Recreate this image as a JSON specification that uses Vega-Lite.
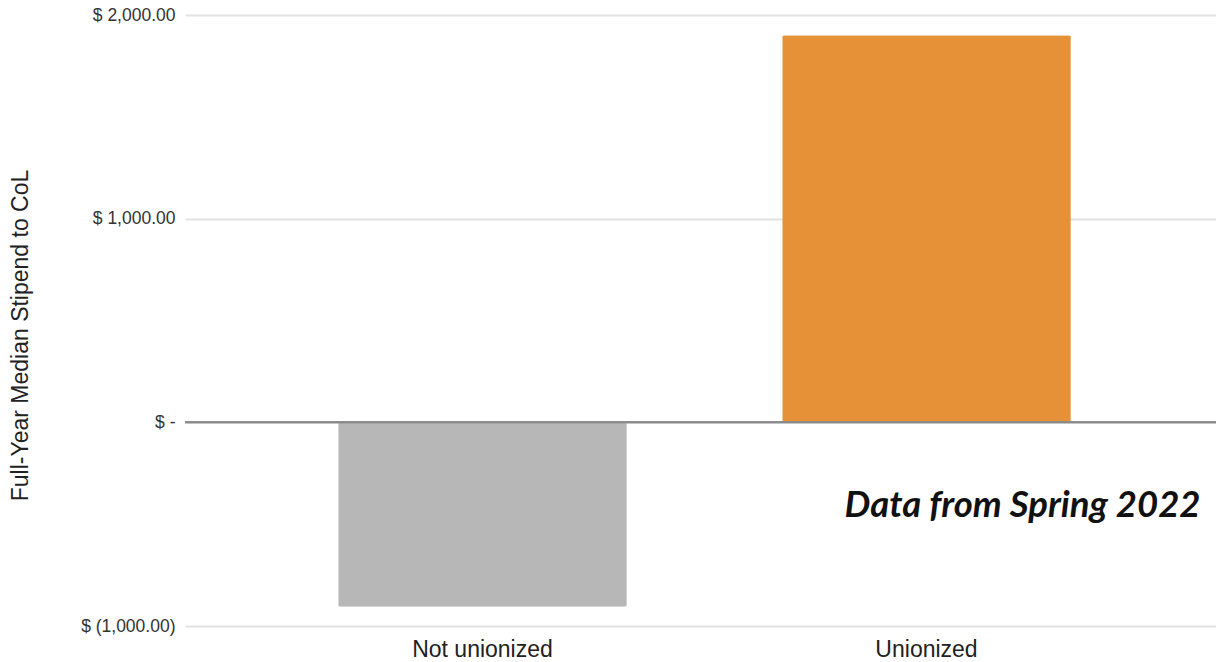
{
  "$schema": "https://vega.github.io/schema/vega-lite/v6.json",
  "autosize": "none",
  "width": 1039,
  "height": 611,
  "padding": {"left": 185, "top": 15, "right": -8, "bottom": 36},
  "background": "white",
  "config": {"view": {"stroke": null}, "font": "Liberation Sans"},
  "data": {"values": [
    {"group": "Not unionized", "value": -905},
    {"group": "Unionized", "value": 1900}
  ]},
  "layer": [
    {
      "mark": {"type": "bar", "cornerRadius": 2},
      "encoding": {
        "x": {"field": "group", "type": "nominal", "sort": null,
          "scale": {"paddingInner": 0.35, "paddingOuter": 0.345},
          "axis": {"title": null, "labelAngle": 0, "labelFontSize": 23, "labelColor": "#222222", "labelPadding": 12, "ticks": false, "domain": false, "labelFont": "Liberation Sans"}},
        "y": {"field": "value", "type": "quantitative",
          "scale": {"domain": [-1000, 2000], "nice": false},
          "axis": {"values": [-1000, 0, 1000, 2000], "title": "Full-Year Median Stipend to CoL",
            "labelExpr": "datum.value == 0 ? '$ -' : (datum.value < 0 ? '$ (' + format(-datum.value, ',.2f') + ')' : '$ ' + format(datum.value, ',.2f'))",
            "labelFontSize": 17.5, "labelColor": "#333333", "labelPadding": 10, "ticks": false, "domain": false,
            "gridColor": "#e2e2e2", "gridWidth": 2,
            "titleFontSize": 23, "titleFontWeight": "normal", "titleColor": "#222222",
            "titleX": -165, "titleY": 320, "titleAngle": -90, "titleAlign": "center", "titleBaseline": "middle"}},
        "color": {"field": "group", "type": "nominal", "legend": null,
          "scale": {"domain": ["Not unionized", "Unionized"], "range": ["#b7b7b7", "#e69138"]}}
      }
    },
    {
      "mark": {"type": "rule", "color": "#8a8a8a", "strokeWidth": 2},
      "encoding": {"y": {"datum": 0}}
    },
    {
      "data": {"values": [{"note": "Data from Spring 2022"}]},
      "mark": {"type": "text", "font": "Lato", "fontStyle": "italic", "fontWeight": "bold", "fontSize": 36.5, "align": "right", "baseline": "middle", "dx": 274, "color": "#111111"},
      "encoding": {
        "x": {"datum": "Unionized"},
        "y": {"datum": -410},
        "text": {"field": "note"}
      }
    }
  ]
}
